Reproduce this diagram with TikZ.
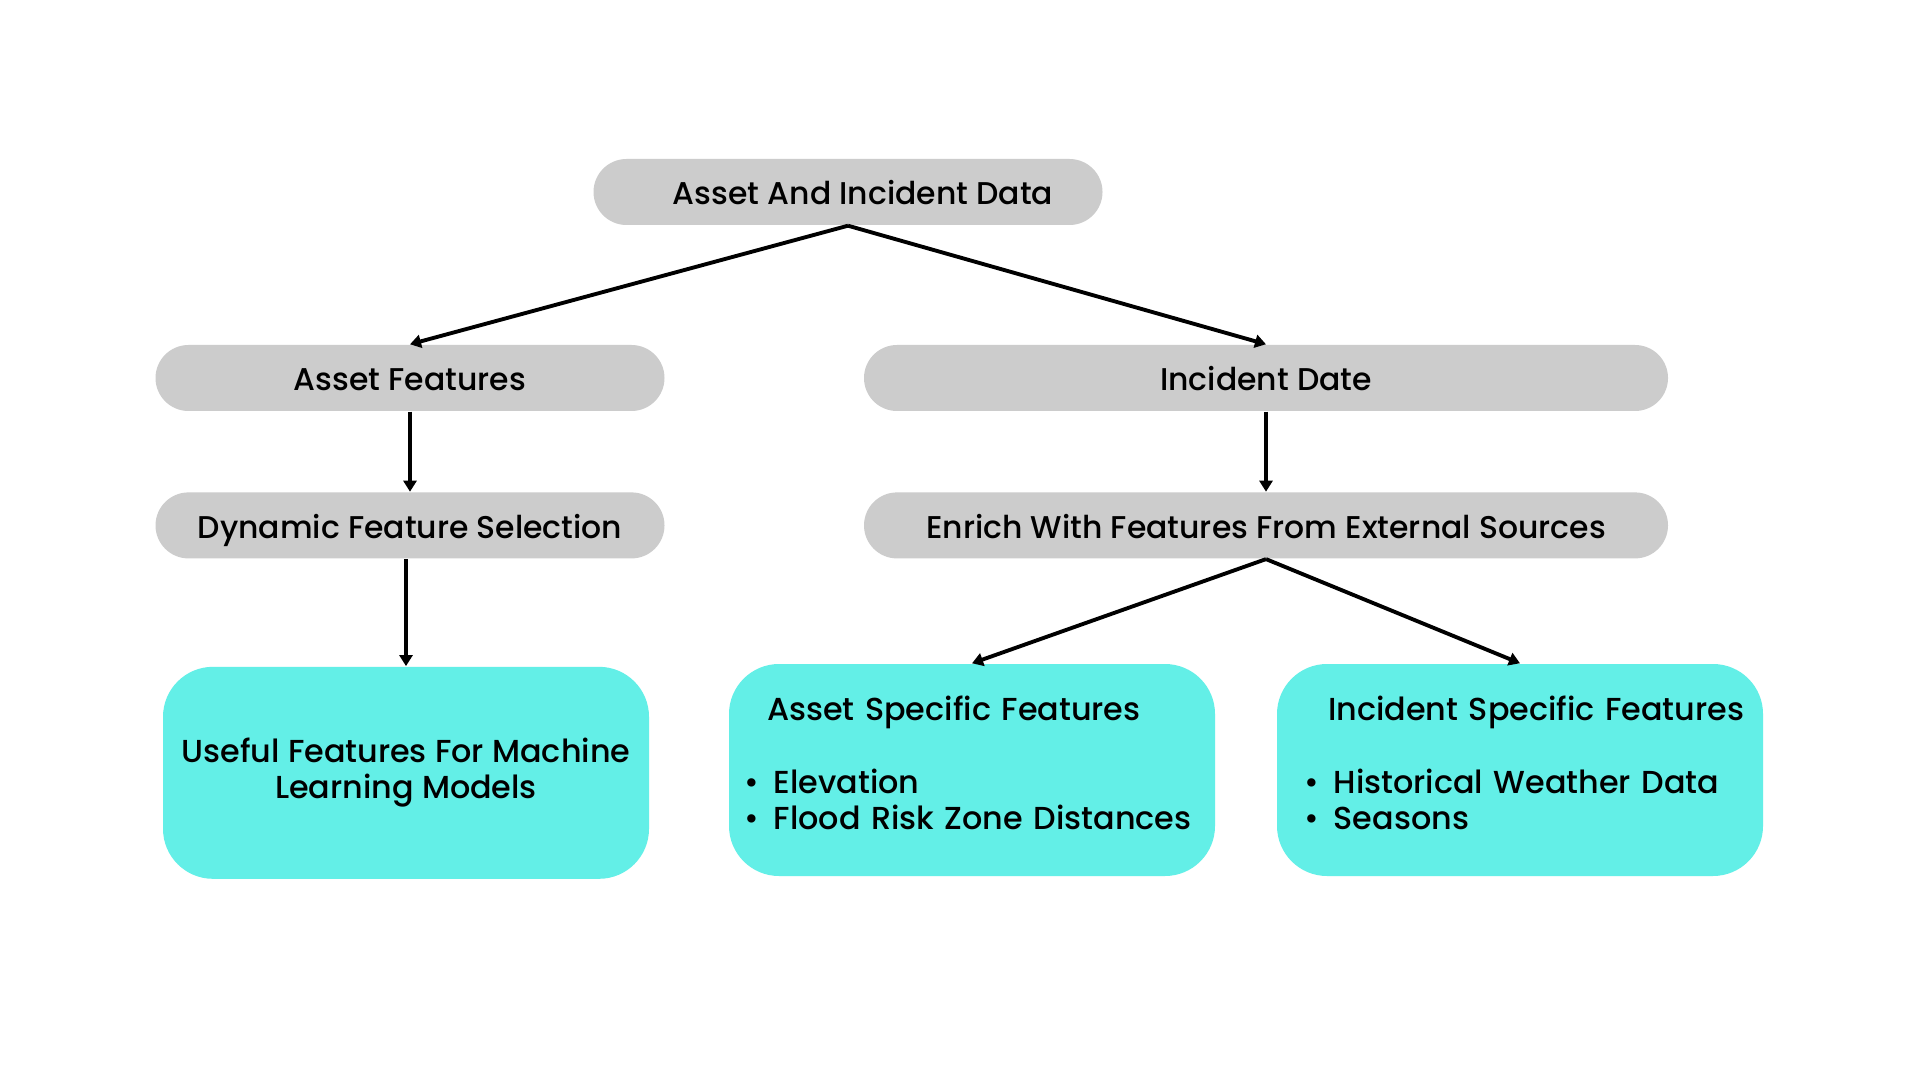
\documentclass[tikz,border=0pt]{standalone}
\usepackage{fontspec}
\setmainfont{Poppins}[UprightFont=* Medium]
\usepackage{xcolor}
\usepackage{tikz}
\usetikzlibrary{positioning, arrows.meta}
\definecolor{pillgray}{HTML}{CCCCCC}
\definecolor{aqua}{HTML}{63EFE7}
\newcommand{\itm}[1]{\mbox{\textbullet\hspace{1.5mm}#1}}
\newcommand{\lowpad}{\rule[-1.4mm]{0pt}{0pt}}

\begin{document}
\begin{tikzpicture}[
    node distance=0.8cm,
    pill/.style={
        rounded corners=3.3mm,
        align=center,
        font=\fontsize{8.95}{11}\selectfont,
        fill=pillgray,
        minimum width=5.09cm,
        minimum height=0.66cm,
        text height=0.92em,
        text depth=0.2em,
        inner sep=0pt
    },
    widepill/.style={pill, minimum width=8.04cm},
    featbox/.style={
        rounded corners=5mm,
        font=\fontsize{9.05}{10.3}\selectfont,
        fill=aqua,
        minimum width=4.86cm,
        minimum height=2.12cm,
        inner xsep=1.5mm,
        inner ysep=1.6mm
    },
    listbox/.style={featbox, text width=4.56cm, align=left},
    arrow/.style={-{Triangle[length=1.1mm,width=1.3mm]}, line width=1.1pt}
]
\useasboundingbox[fill=white] (0,0) rectangle (19.2,-10.8);

\node[pill] (source) at (8.48,-1.92) {\hspace*{3mm}Asset And Incident Data};
\node[pill] (assetfeat) at (4.10,-3.78) {Asset Features};
\node[widepill] (incdate) at (12.66,-3.78) {Incident Date};
\node[pill] (dynsel) [below=of assetfeat] {Dynamic Feature Selection};
\node[widepill] (enrich) [below=of incdate] {Enrich With Features From External Sources};

\node[featbox, align=center] (useful) [below=1.07cm of dynsel, xshift=-0.04cm] {Useful Features For Machine\\Learning Models};
\node[listbox] (assetspec) at (9.72,-7.70)
    {\mbox{\hspace*{2.3mm}Asset Specific Features}\\[\baselineskip]
     \itm{Elevation}\\
     \itm{Flood Risk Zone Distances}\lowpad};
\node[listbox] (incspec) at (15.20,-7.70)
    {\mbox{\hspace*{3.6mm}Incident Specific Features}\\[\baselineskip]
     \hspace*{1.2mm}\itm{Historical Weather Data}\\
     \hspace*{1.2mm}\itm{Seasons}\lowpad};

\draw[arrow] (source.south) -- (assetfeat.north);
\draw[arrow] (source.south) -- (incdate.north);
\draw[arrow] (assetfeat) -- (dynsel);
\draw[arrow] (incdate) -- (enrich);
\draw[arrow] (useful.north |- dynsel.south) -- (useful.north);
\draw[arrow] (enrich.south) -- (assetspec.north);
\draw[arrow] (enrich.south) -- (incspec.north);

\end{tikzpicture}
\end{document}
